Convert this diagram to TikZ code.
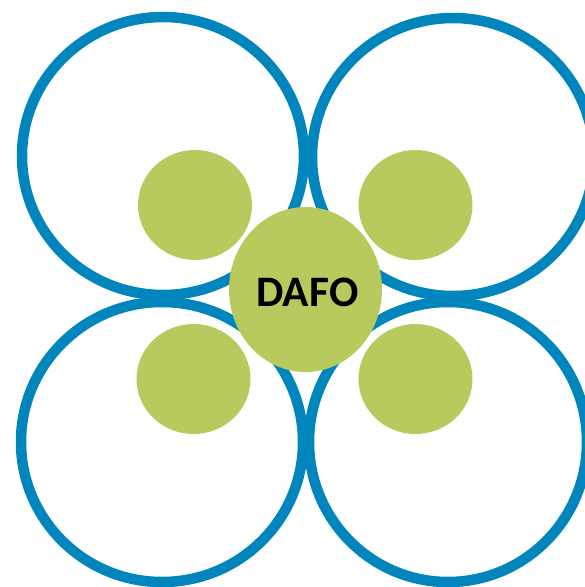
\documentclass[tikz,border=0pt]{standalone}
\usepackage{fontspec}
\setmainfont{Carlito}
\usepackage{tikz}
\usetikzlibrary{shapes.geometric, positioning}
\definecolor{dafoblue}{RGB}{0,134,188}
\definecolor{dafogreen}{RGB}{184,202,94}
\tikzstyle{ring} = [draw=dafoblue, line width=10.5pt]
\tikzstyle{dot} = [fill=dafogreen]

\begin{document}
\begin{tikzpicture}[x=1pt, y=-1pt]

   % Fix the page size
   \useasboundingbox (0,0) rectangle (585,587);

   % Draw the four blue rings
   \draw[ring] (163,156) circle [x radius=141, y radius=139];
   \draw[ring] (453,157) circle [x radius=141, y radius=139];
   \draw[ring] (162,442) circle [x radius=141, y radius=140];
   \draw[ring] (448,442) circle [x radius=139, y radius=140];

   % Add the small green dots
   \fill[dot] (195,205) ellipse [x radius=57, y radius=55];
   \fill[dot] (415.5,205) ellipse [x radius=57, y radius=55];
   \fill[dot] (193.5,379) ellipse [x radius=57, y radius=55];
   \fill[dot] (415.5,379) ellipse [x radius=57, y radius=55];

   % Centre blob with its label
   \fill[dot] (305.5,289.5) ellipse [x radius=76.5, y radius=82.5];
   \node[inner sep=0pt, font=\fontsize{43.5}{50}\selectfont\bfseries] (dafo) at (307.5,292.5) {DAFO};

\end{tikzpicture}
\end{document}
